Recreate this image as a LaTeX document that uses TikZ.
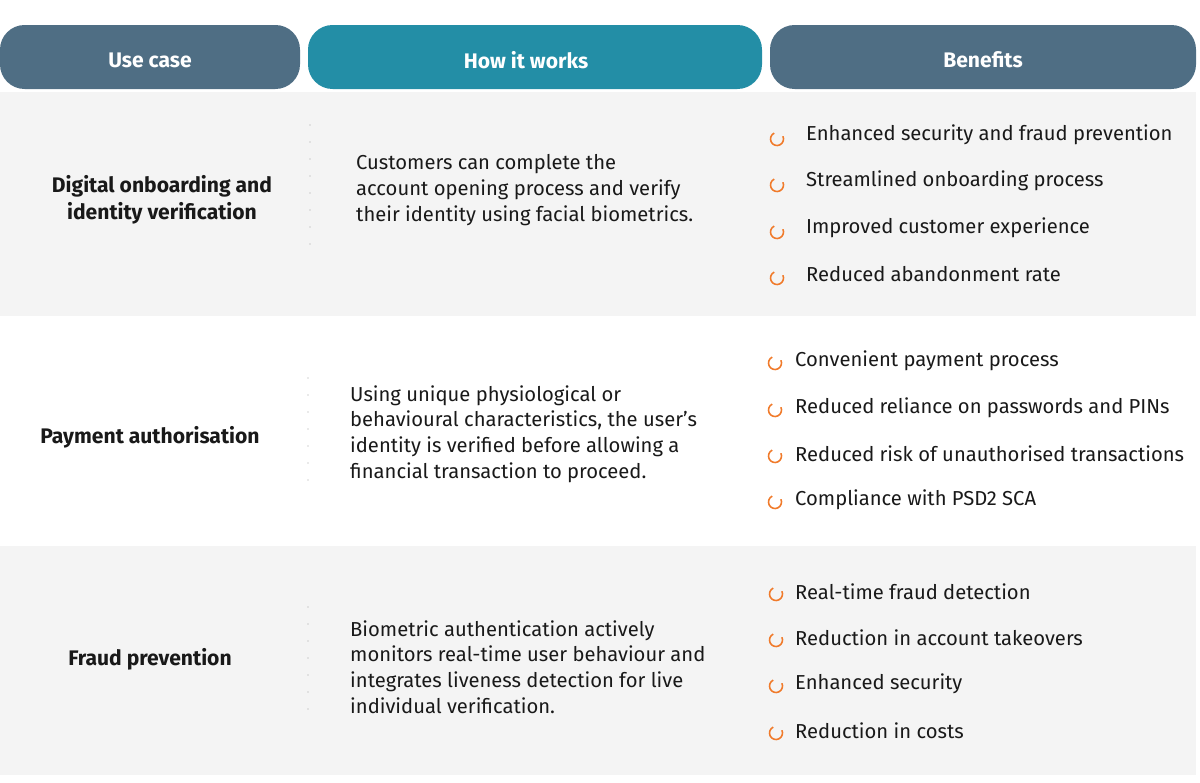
\documentclass[tikz,border=0pt]{standalone}
\usepackage{fontspec}
\setmainfont{Fira Sans}
\definecolor{tabslate}{HTML}{4F6E84}
\definecolor{tabteal}{HTML}{238EA6}
\definecolor{rowgray}{HTML}{F4F4F4}
\definecolor{bulletorange}{HTML}{F07A2A}
\usetikzlibrary{positioning, calc}
\tikzset{
  tabhead/.style={font=\fontsize{12}{15}\selectfont\bfseries, text=white},
  usecase/.style={font=\fontsize{12}{15.5}\selectfont\bfseries, align=center, text=black!90},
  howtext/.style={font=\fontsize{11.5}{14.6}\selectfont, align=left, anchor=west, text=black!90},
  benefit/.style={font=\fontsize{11.5}{14}\selectfont, anchor=west, text=black!90},
}
\newcommand{\orangeloop}[1]{%
  \draw[bulletorange, line width=0.9pt] ($(#1)+(-25:6.5)$) arc (-25:245:6.5);}
\begin{document}
\begin{tikzpicture}[x=0.02cm, y=-0.02cm]
  \useasboundingbox (0,0) rectangle (1200,782);
  % Header tabs
  \fill[tabslate, rounded corners=14] (0,89) -- (0,25) -- (300,25) -- (300,89) -- cycle;
  \fill[tabteal, rounded corners=14] (308,89) -- (308,25) -- (762,25) -- (762,89) -- cycle;
  \fill[tabslate, rounded corners=14] (770,89) -- (770,25) -- (1196,25) -- (1196,89) -- cycle;
  \node[tabhead] (hcase) at (150,60) {Use case};
  \node[tabhead] (hhow) at (526,60) {How it works};
  \node[tabhead] (hben) at (983,60) {Benefits};

  % Rows
  \fill[rowgray] (0,92) rectangle (1196,316);
  \fill[rowgray] (0,546) rectangle (1196,775);

  % Dotted separators
  \foreach \ya in {125,142,...,245} \fill[black!35] (310,\ya) circle (0.6);
  \foreach \ya in {378,395,...,495} \fill[black!35] (308,\ya) circle (0.6);
  \foreach \ya in {607,624,...,724} \fill[black!35] (308,\ya) circle (0.6);

  % Row 1
  \node[usecase] (case1) at (162,200) {Digital onboarding and\\identity verification};
  \node[howtext] (how1) at (350,190) {Customers can complete the\\account opening process and verify\\their identity using facial biometrics.};
  \foreach \yb/\txt in {135/Enhanced security and fraud prevention, 181/Streamlined onboarding process,
    228/Improved customer experience, 274/Reduced abandonment rate} {
    \coordinate (b) at (777,\yb+4);
    \orangeloop{b}
    \node[benefit] at (800,\yb) {\txt};
  }

  % Row 2
  \node[usecase] (case2) at (150,437) {Payment authorisation};
  \node[howtext] (how2) at (344,434) {Using unique physiological or\\behavioural characteristics, the user’s\\identity is verified before allowing a\\financial transaction to proceed.};
  \foreach \yb/\txt in {361/Convenient payment process, 408/Reduced reliance on passwords and PINs,
    454/Reduced risk of unauthorised transactions, 500/Compliance with PSD2 SCA} {
    \coordinate (b) at (775,\yb+2);
    \orangeloop{b}
    \node[benefit] at (789,\yb) {\txt};
  }

  % Row 3
  \node[usecase] (case3) at (150,659) {Fraud prevention};
  \node[howtext] (how3) at (344,667) {Biometric authentication actively\\monitors real-time user behaviour and\\integrates liveness detection for live\\individual verification.};
  \foreach \yb/\txt in {592/Real-time fraud detection, 638/Reduction in account takeovers,
    684/Enhanced security, 731/Reduction in costs} {
    \coordinate (b) at (776,\yb+2);
    \orangeloop{b}
    \node[benefit] at (789,\yb) {\txt};
  }
\end{tikzpicture}
\end{document}
